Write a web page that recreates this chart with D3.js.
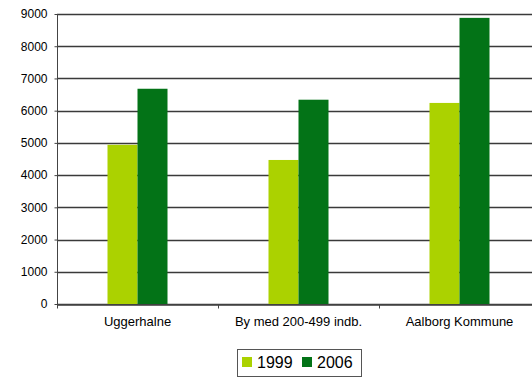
<!DOCTYPE html>
<html><head><meta charset="utf-8">
<script src="https://cdn.jsdelivr.net/npm/d3@7"></script>
<style>body{margin:0;background:#fff;}svg{display:block;font-family:"Liberation Sans",Arial,sans-serif;}</style>
</head><body><svg id="c" width="532" height="377"></svg>
<script>
const categories = ["Uggerhalne", "By med 200-499 indb.", "Aalborg Kommune"];
const seriesNames = ["1999", "2006"];
const values1999 = [4940, 4470, 6240];
const values2006 = [6680, 6340, 8880];
const yTicks = [0, 1000, 2000, 3000, 4000, 5000, 6000, 7000, 8000, 9000];
const colors = ["#abd200", "#037317"];

(function () {
const svg = d3.select("#c");
const mLeft = 57, mRight = 540, mTop = 14, mBottom = 304;
const x = d3.scaleBand().domain(categories).range([mLeft, mRight]).paddingInner(0).paddingOuter(0);
const y = d3.scaleLinear().domain([0, 9000]).range([mBottom, mTop]);
const xs = d3.scaleBand().domain(seriesNames).range([0, x.bandwidth()]).paddingInner(0).paddingOuter((x.bandwidth() - 60) / 60);

// gridlines
svg.append("g").selectAll("line").data(yTicks).join("line")
  .attr("x1", mLeft).attr("x2", mRight)
  .attr("y1", d => Math.round(y(d)) + 0.5).attr("y2", d => Math.round(y(d)) + 0.5)
  .attr("stroke", "#3a3a3a").attr("stroke-width", 1.3);

// bars
const data = categories.map((c, i) => ({c, vals: [values1999[i], values2006[i]]}));
const g = svg.append("g");
data.forEach(d => {
  d.vals.forEach((v, j) => {
    g.append("rect")
      .attr("x", x(d.c) + xs(seriesNames[j]))
      .attr("width", xs.bandwidth())
      .attr("y", y(v)).attr("height", y(0) - y(v))
      .attr("fill", colors[j]);
  });
});

// y axis
const ya = d3.axisLeft(y).tickValues(yTicks).tickSize(3).tickPadding(7).tickFormat(d3.format("d"));
const yg = svg.append("g").attr("transform", `translate(${mLeft + 0.5},0)`).call(ya);
yg.select(".domain").attr("stroke", "#444").attr("d", `M0,${mTop}V${mBottom + 0.5}`);
yg.selectAll(".tick line").attr("stroke", "#444");
yg.selectAll("text").attr("font-size", 12).attr("fill", "#000").attr("font-family", "Liberation Sans, Arial, sans-serif");

// x axis
const xa = d3.axisBottom(x).tickSize(0).tickPadding(12);
const xg = svg.append("g").attr("transform", `translate(0,${Math.round(mBottom) + 0.5})`).call(xa);
xg.select(".domain").attr("stroke", "#444").attr("stroke-width", 1.3);
xg.selectAll("text").attr("font-size", 13).attr("fill", "#000").attr("font-family", "Liberation Sans, Arial, sans-serif");
xg.selectAll(".bt").data(categories).join("line").attr("class", "bt")
  .attr("x1", d => x(d) + 0.5).attr("x2", d => x(d) + 0.5)
  .attr("y1", 0).attr("y2", 4).attr("stroke", "#444");

// legend
const lg = svg.append("g");
lg.append("rect").attr("x", 237.5).attr("y", 349.5).attr("width", 124).attr("height", 27)
  .attr("fill", "#fff").attr("stroke", "#555").attr("stroke-width", 1);
const lx = [242, 302];
seriesNames.forEach((s, i) => {
  lg.append("rect").attr("x", lx[i]).attr("y", 357).attr("width", 10).attr("height", 10).attr("fill", colors[i]);
  lg.append("text").attr("x", lx[i] + 15).attr("y", 368).attr("font-size", 16).attr("fill", "#000").text(s);
});
})();
</script></body></html>
